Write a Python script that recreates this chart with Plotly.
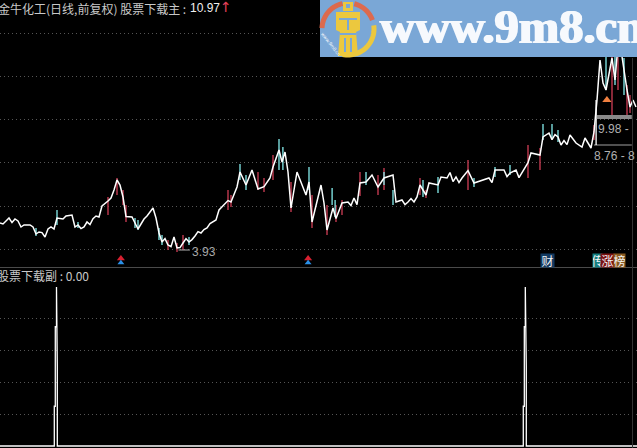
import numpy as np
import plotly.graph_objects as go

W, H = 637, 448

close_days = [0,1,2,3,5,6,7,8,10,11,12,13,15,16,17,18,19,21,22,24,25,26,28,29,32,33,34,36,37,38,39,40,41,42,44,45,46,48,49,51,52,53,54,56,58,59,61,63,65,67,69,
    70,72,73,76,77,79,80,82,84,86,88,90,91,93,94,95,96,97,99,102,103,104,107,108,109,111,112,114,116,118,120,122,124,126,128,131,132,134,136,138,139,140,
    142,143,146,147,149,152,154,156,158,161,163,165,168,170,172,174,176,177,180,181,183,186,187,190,192,194,195,197,198,199,200,201,202,204,205,206,207,209,210,211,212]
close = [5.28,5.23,5.38,5.53,5.48,5.38,5.08,5.18,5.18,5.08,4.73,4.83,4.58,4.98,5.08,4.98,5.53,5.48,5.63,5.68,5.08,5.18,5.08,5.33,5.63,5.58,6.13,6.38,6.53,6.93,7.43,7.18,6.58,5.6,5.58,5.28,4.98,5.48,5.63,6.03,5.53,4.78,4.33,4.18,4.58,4.03,4.28,4.33,4.63,4.78,5.03,
    5.25,5.43,5.93,6.4,6.33,7.08,7.83,7.18,7.93,6.98,7.1,7.53,8.08,8.93,8.33,8.83,7.83,6.03,7.83,6.68,7.33,5.33,7.18,6.28,4.93,6.03,5.5,6.28,6.33,6.53,7.28,7.33,7.68,7.08,7.53,7.68,6.33,6.43,6.33,6.33,6.58,7.18,
    6.68,7.28,7.18,7.58,7.53,7.58,7.53,7.9,7.28,7.43,7.53,7.93,7.93,7.78,7.93,7.78,8.3,8.78,8.68,9.58,9.78,9.58,9.18,9.68,9.28,9.08,9.53,9.03,9.83,11.43,13.43,12.28,11.93,13.53,12.43,14.18,13.93,11.93,11.08,11.43,11.08]
extra_days = [4,14,27,30,31,55,57,60,62,64,66,68,117,119,135,137,150,151,153,164,169,173,184,185,188,189]
extra_close = [5.3,4.8,5.0,5.2,5.5,4.5,4.1,4.05,4.5,4.45,4.85,4.95,6.15,6.2,6.2,6.5,7.8,7.35,7.3,7.3,7.6,7.55,9.45,9.7,9.4,9.2]

up_days = [19,12,26,45,46,53,54,63,80,82,93,94.3,103,110.7,111.7,131,122,128,141,146,158,165,170,181,184,186,202,205,208]
up_high = [5.93,5.03,5.33,5.53,5.43,5.03,4.68,4.58,8.23,7.68,9.48,9.08,8.08,7.03,6.43,6.93,7.83,7.83,7.43,7.58,7.53,8.08,8.18,10.23,10.23,9.93,13.68,13.58,13.53]
up_low = [5.18,4.63,5.03,5.03,4.93,4.43,4.18,4.18,7.43,6.93,7.93,7.93,6.93,6.18,5.58,6.18,7.18,7.18,6.58,6.78,7.08,7.58,7.68,9.43,9.53,9.33,11.93,12.18,11.68]

dn_days = [39,41,42,36,59,61,56,76,77,86,88,91,97,104,109,112,114,120,126,128,140,142,156,176,180,198,204,206,209,210]
dn_high = [7.53,6.93,6.18,6.58,4.28,4.68,4.43,6.93,6.68,7.83,7.53,8.68,7.33,6.68,6.18,6.18,6.43,7.83,7.68,8.03,7.53,6.93,8.43,9.18,9.03,10.18,13.58,13.58,12.18,11.68]
dn_low = [6.68,6.18,5.33,5.68,3.83,3.93,3.93,5.93,6.08,6.93,6.83,7.43,5.83,5.03,4.68,5.33,5.68,6.63,6.68,6.93,6.68,6.53,6.93,7.53,7.93,9.43,10.68,11.93,10.68,10.78]

signal_days = [0,18.1,18.1,18.43,18.43,18.83,18.83,19.1,19.1,174.43,174.43,174.77,174.77,175.1,175.1,175.43,175.43,212.4]
signal = [0,0,0.25,0.25,0.75,0.75,1,0.5,0,0,0.25,0.25,0.75,0.75,1,0.5,0,0]

marker_days = [40.3, 102.7]
marker_red = [3.5, 3.5]
marker_blue = [3.29, 3.29]
low_day, low_price = 63.3, 3.93
grid_main = [14.78, 12.63, 10.48, 8.305, 6.13, 3.98]
grid_sub = [0.2, 0.4, 0.6, 0.8]

pairs = sorted(zip(close_days + extra_days, close + extra_close))
line_days = [p[0] for p in pairs]
line_close = [p[1] for p in pairs]


def segs(days, a, b):
    xs, ys = [], []
    for d, p, q in zip(days, a, b):
        xs += [d, d, None]
        ys += [p, q, None]
    return xs, ys


fig = go.Figure()
x, y = segs(dn_days, dn_high, dn_low)
fig.add_scatter(x=x, y=y, mode="lines", line=dict(color="#c23a50", width=1.4), yaxis="y")
x, y = segs(up_days, up_high, up_low)
fig.add_scatter(x=x, y=y, mode="lines", line=dict(color="#86eeee", width=1.3), yaxis="y")
fig.add_scatter(x=line_days, y=line_close, mode="lines", line=dict(color="#ffffff", width=1.5), yaxis="y")
fig.add_scatter(x=[199, 210.6], y=[10.58, 10.58], mode="lines", line=dict(color="#8a8a8a", width=4), yaxis="y")
fig.add_scatter(x=[198, 210.6], y=[9.18, 9.18], mode="lines", line=dict(color="#a0a0a0", width=1), yaxis="y")
fig.add_scatter(x=[198.7, 198.7], y=[9.18, 11.43], mode="lines", line=dict(color="#ffffff", width=1.3), yaxis="y")
fig.add_scatter(x=[202.3], y=[11.43], mode="markers", marker=dict(symbol="triangle-up", size=8, color="#f08040"), yaxis="y")
fig.add_scatter(x=marker_days, y=marker_red, mode="markers", marker=dict(symbol="triangle-up", size=7, color="#d82030"), yaxis="y")
fig.add_scatter(x=marker_days, y=marker_blue, mode="markers", marker=dict(symbol="triangle-up", size=6, color="#2a90e8"), yaxis="y")
fig.add_scatter(x=[59.5, low_day], y=[low_price, low_price], mode="lines", line=dict(color="#b0b0b0", width=1), yaxis="y")
fig.add_scatter(x=signal_days, y=signal, mode="lines", line=dict(color="#ffffff", width=1.3), yaxis="y2")


def px(v):
    return v / W


def py(v):
    return 1 - v / H


def rect(x0, y0, x1, y1, color):
    return dict(type="rect", xref="paper", yref="paper", x0=px(x0), x1=px(x1), y0=py(y0), y1=py(y1),
                fillcolor=color, line=dict(width=0), layer="above")


def poly(points, color=None, line=None):
    path = "M" + " L".join(f"{px(a):.5f},{py(b):.5f}" for a, b in points)
    if color:
        path += " Z"
    return dict(type="path", xref="paper", yref="paper", path=path, fillcolor=color or "rgba(0,0,0,0)",
                line=line or dict(width=0), layer="above")


def arc(start, end, color):
    t = np.radians(np.linspace(start, end, 30))
    pts = list(zip(348 + 26 * np.cos(t), 29 - 26 * np.sin(t)))
    return poly(pts, line=dict(color=color, width=5))


def hline(y0, x0=0, x1=W, color="#555555", width=1):
    return dict(type="line", xref="paper", yref="paper", x0=px(x0), x1=px(x1), y0=py(y0), y1=py(y0),
                line=dict(color=color, width=width), layer="above")


BANNER = "#7aa7d6"
YEL = "#ecc83e"
shapes = [
    hline(267.5, color="#4a4a4a"),
    dict(type="line", xref="paper", yref="paper", x0=px(632.5), x1=px(632.5), y0=py(58), y1=py(448),
         line=dict(color="#333333", width=1), layer="above"),
    rect(320, 0, 637, 57, BANNER),
    arc(178, 102, "#dc6a4e"),
    arc(76, 20, "#dc6a4e"),
    arc(8, -102, YEL),
    rect(343, 2, 353, 11, YEL),
    rect(346, 4, 350, 8, BANNER),
    poly([(336, 12), (360, 12), (360, 30), (356, 32), (358, 56), (338, 56), (340, 32), (336, 30)], color=YEL),
    rect(339, 18, 357, 20, BANNER),
    rect(347, 20, 349, 30, BANNER),
    rect(340, 33, 356, 35, BANNER),
    rect(344, 38, 346, 52, BANNER),
    rect(350, 38, 352, 52, BANNER),
]

GREY = "#c8c8c8"


def label(text, x0, y0, color=GREY, size=12, anchor="left", family="Noto Sans CJK SC", **kw):
    return dict(text=text, xref="paper", yref="paper", x=px(x0), y=py(y0), xanchor=anchor, yanchor="middle",
                showarrow=False, font=dict(color=color, size=size, family=family), borderpad=0, **kw)


def badge(text, x0, x1, color):
    return dict(text=text, xref="paper", yref="paper", x=px(x0), y=py(260), xanchor="left", yanchor="middle",
                showarrow=False, width=x1 - x0, height=13, bgcolor=color, borderpad=0, align="center",
                font=dict(color="#f4f4f4", size=12, family="Noto Sans CJK SC"))


site = label("<b>www.9m8.cn</b>", 379, 27, color="#f6f9fd", size=48.5, family="Liberation Serif")
site["font"]["shadow"] = "1px 0 0 #f6f9fd, -1px 0 0 #f6f9fd"

annotations = [
    label("金牛化工(日线,前复权) 股票下载主 :", -3, 8, size=12),
    label("10.97", 189, 8, color="#f0f0f0", family="Liberation Sans"),
    label("↑", 219, 7, color="#e0405a", size=14, family="DejaVu Sans"),
    label("股票下载副 : 0.00", -4, 275, size=12),
    label("3.93", 191, 252, color="#a8a8a8", family="Liberation Sans"),
    label("9.98 -", 597, 129, color="#b0b0b0", family="Liberation Sans"),
    label("8.76 - 8", 593, 156, color="#b0b0b0", family="Liberation Sans"),
    badge("财", 540, 553, "#123a62"),
    badge("传", 592, 601, "#157f80"),
    badge("涨", 600, 613, "#7c1212"),
    badge("榜", 613, 624, "#8a5a20"),
    site,
    label("www.9m8.cn", 331, 44, color="#f0f4fa", size=5, anchor="center", family="Liberation Sans", textangle=52),
]

GRID = dict(showticklabels=False, showgrid=True, griddash="1px,3px", gridcolor="#555555", gridwidth=1,
            zeroline=False, fixedrange=True)
fig.update_layout(
    width=W, height=H, margin=dict(l=0, r=0, t=0, b=0), autosize=False,
    paper_bgcolor="#000000", plot_bgcolor="#000000", showlegend=False,
    xaxis=dict(range=[0, W / 3], visible=False, fixedrange=True),
    yaxis=dict(domain=[181 / H, 1], range=[16.43 - 267 * 0.05, 16.43], tickvals=grid_main, **GRID),
    yaxis2=dict(domain=[0, 180 / H], range=[-2 / 159, 178 / 159], tickvals=grid_sub, anchor="x", **GRID),
    shapes=shapes, annotations=annotations,
)
fig.write_html("out.html", config=dict(displayModeBar=False),
               post_script="document.body.style.margin='0';document.body.style.background='#000';document.body.style.overflow='hidden';")
